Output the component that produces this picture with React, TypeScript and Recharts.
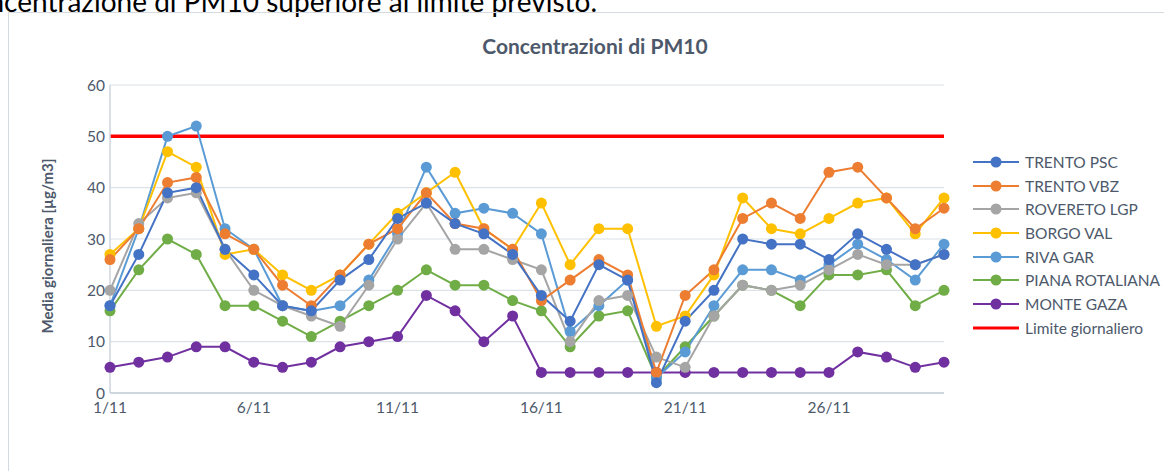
import { CartesianGrid, Legend, Line, LineChart, XAxis, YAxis } from "recharts";

const giorni = [
  "1/11", "2/11", "3/11", "4/11", "5/11", "6/11", "7/11", "8/11", "9/11", "10/11",
  "11/11", "12/11", "13/11", "14/11", "15/11", "16/11", "17/11", "18/11", "19/11", "20/11",
  "21/11", "22/11", "23/11", "24/11", "25/11", "26/11", "27/11", "28/11", "29/11", "30/11",
];

const trentoPsc = [17, 27, 39, 40, 28, 23, 17, 16, 22, 26, 34, 37, 33, 31, 27, 19, 14, 25, 22, 2, 14, 20, 30, 29, 29, 26, 31, 28, 25, 27];
const trentoVbz = [26, 32, 41, 42, 31, 28, 21, 17, 23, 29, 32, 39, 33, 32, 28, 18, 22, 26, 23, 4, 19, 24, 34, 37, 34, 43, 44, 38, 32, 36];
const roveretoLgp = [20, 33, 38, 39, 28, 20, 17, 15, 13, 21, 30, 37, 28, 28, 26, 24, 10, 18, 19, 7, 5, 15, 21, 20, 21, 24, 27, 25, 25, 27];
const borgoVal = [27, 32, 47, 44, 27, 28, 23, 20, 23, 29, 35, 39, 43, 32, 28, 37, 25, 32, 32, 13, 15, 23, 38, 32, 31, 34, 37, 38, 31, 38];
const rivaGar = [17, 32, 50, 52, 32, 28, 17, 16, 17, 22, 31, 44, 35, 36, 35, 31, 12, 17, 22, 3, 8, 17, 24, 24, 22, 25, 29, 26, 22, 29];
const pianaRotaliana = [16, 24, 30, 27, 17, 17, 14, 11, 14, 17, 20, 24, 21, 21, 18, 16, 9, 15, 16, 3, 9, 15, 21, 20, 17, 23, 23, 24, 17, 20];
const monteGaza = [5, 6, 7, 9, 9, 6, 5, 6, 9, 10, 11, 19, 16, 10, 15, 4, 4, 4, 4, 4, 4, 4, 4, 4, 4, 4, 8, 7, 5, 6];

const limiteGiornaliero = 50;
const yTicks = [0, 10, 20, 30, 40, 50, 60];

const stazioni = [
  { key: "trentoPsc", name: "TRENTO PSC", color: "#4472C4", values: trentoPsc },
  { key: "trentoVbz", name: "TRENTO VBZ", color: "#ED7D31", values: trentoVbz },
  { key: "roveretoLgp", name: "ROVERETO LGP", color: "#A5A5A5", values: roveretoLgp },
  { key: "borgoVal", name: "BORGO VAL", color: "#FFC000", values: borgoVal },
  { key: "rivaGar", name: "RIVA GAR", color: "#5B9BD5", values: rivaGar },
  { key: "pianaRotaliana", name: "PIANA ROTALIANA", color: "#70AD47", values: pianaRotaliana },
  { key: "monteGaza", name: "MONTE GAZA", color: "#7030A0", values: monteGaza },
];

const data = giorni.map((giorno, i) => {
  const row: Record<string, string | number> = { giorno, limite: limiteGiornaliero };
  stazioni.forEach((s) => {
    row[s.key] = s.values[i];
  });
  return row;
});

const FONT = "Lato, 'Open Sans', sans-serif";
const TEXT_COLOR = "#4d596b";
const LIMIT_COLOR = "#FF0000";

function LegendaStazioni() {
  const items = [
    ...stazioni.map((s) => ({ name: s.name, color: s.color, marker: true })),
    { name: "Limite giornaliero", color: LIMIT_COLOR, marker: false },
  ];

  return (
    <div style={{ fontFamily: FONT, fontSize: 15.5, color: TEXT_COLOR }}>
      {items.map((item) => (
        <div key={item.name} style={{ display: "flex", alignItems: "center", height: 23.7, whiteSpace: "nowrap" }}>
          <svg width={46} height={14} style={{ marginRight: 6, flexShrink: 0 }}>
            <line x1={0} x2={46} y1={7} y2={7} stroke={item.color} strokeWidth={item.marker ? 2 : 3} />
            {item.marker && <circle cx={23} cy={7} r={5.5} fill={item.color} />}
          </svg>
          <span>{item.name}</span>
        </div>
      ))}
    </div>
  );
}

function EtichettaAsseY({ viewBox }: any) {
  const cx = viewBox.x + 7;
  const cy = viewBox.y + viewBox.height / 2 + 7;
  return (
    <text
      transform={`translate(${cx},${cy}) rotate(-90)`}
      textAnchor="middle"
      dominantBaseline="central"
      fontFamily={FONT}
      fontSize={15}
      fontWeight={700}
      fill={TEXT_COLOR}
    >
      Media giornaliera [µg/m3]
    </text>
  );
}

export default function App() {
  return (
    <div
      style={{
        position: "absolute",
        left: 0,
        top: 0,
        width: 1164,
        height: 471,
        overflow: "hidden",
        background: "#ffffff",
      }}
    >
      {/* testo del documento, tagliato in alto */}
      <svg width={1164} height={30} style={{ position: "absolute", left: 0, top: 0 }}>
        <text x={597} y={12} textAnchor="end" fontFamily={FONT} fontSize={28} fill="#000000">
          concentrazione di PM10 superiore al limite previsto.
        </text>
      </svg>

      <div
        style={{
          position: "absolute",
          left: 8,
          top: 12,
          width: 1200,
          height: 500,
          border: "1px solid #d5dae1",
        }}
      />

      <div
        style={{
          position: "absolute",
          left: 395,
          top: 34,
          width: 400,
          lineHeight: "24px",
          textAlign: "center",
          fontFamily: FONT,
          fontSize: 21,
          fontWeight: 700,
          color: TEXT_COLOR,
        }}
      >
        Concentrazioni di PM10
      </div>

      <div style={{ position: "absolute", left: 0, top: 0 }}>
        <LineChart
          width={1164}
          height={471}
          data={data}
          margin={{ top: 85, right: 220, bottom: 48, left: 40 }}
        >
          <CartesianGrid vertical={false} stroke="#dce1e8" strokeWidth={1.2} />

          <XAxis
            dataKey="giorno"
            interval={4}
            tickLine={false}
            tickMargin={3}
            axisLine={{ stroke: "#d0d6de", strokeWidth: 2 }}
            tick={{ fill: TEXT_COLOR, fontSize: 15.5, fontFamily: FONT }}
            height={30}
          />

          <YAxis
            domain={[0, 60]}
            ticks={yTicks}
            width={70}
            tickLine={false}
            tickSize={3}
            tickMargin={2}
            axisLine={{ stroke: "#cdd4dd", strokeWidth: 1.5 }}
            tick={{ fill: TEXT_COLOR, fontSize: 15.5, fontFamily: FONT }}
            label={{ content: EtichettaAsseY }}
          />

          <Legend
            layout="vertical"
            align="center"
            verticalAlign="middle"
            content={() => <LegendaStazioni />}
            wrapperStyle={{ left: 973, top: 150, width: 190 }}
          />

          <Line
            dataKey="limite"
            name="Limite giornaliero"
            stroke={LIMIT_COLOR}
            strokeWidth={3.5}
            dot={false}
            activeDot={false}
            isAnimationActive={false}
          />

          {[...stazioni].reverse().map((s) => (
            <Line
              key={s.key}
              dataKey={s.key}
              name={s.name}
              type="linear"
              stroke={s.color}
              strokeWidth={2}
              dot={{ r: 5.5, fill: s.color, stroke: s.color, strokeWidth: 0 }}
              activeDot={false}
              isAnimationActive={false}
            />
          ))}
        </LineChart>
      </div>
    </div>
  );
}
